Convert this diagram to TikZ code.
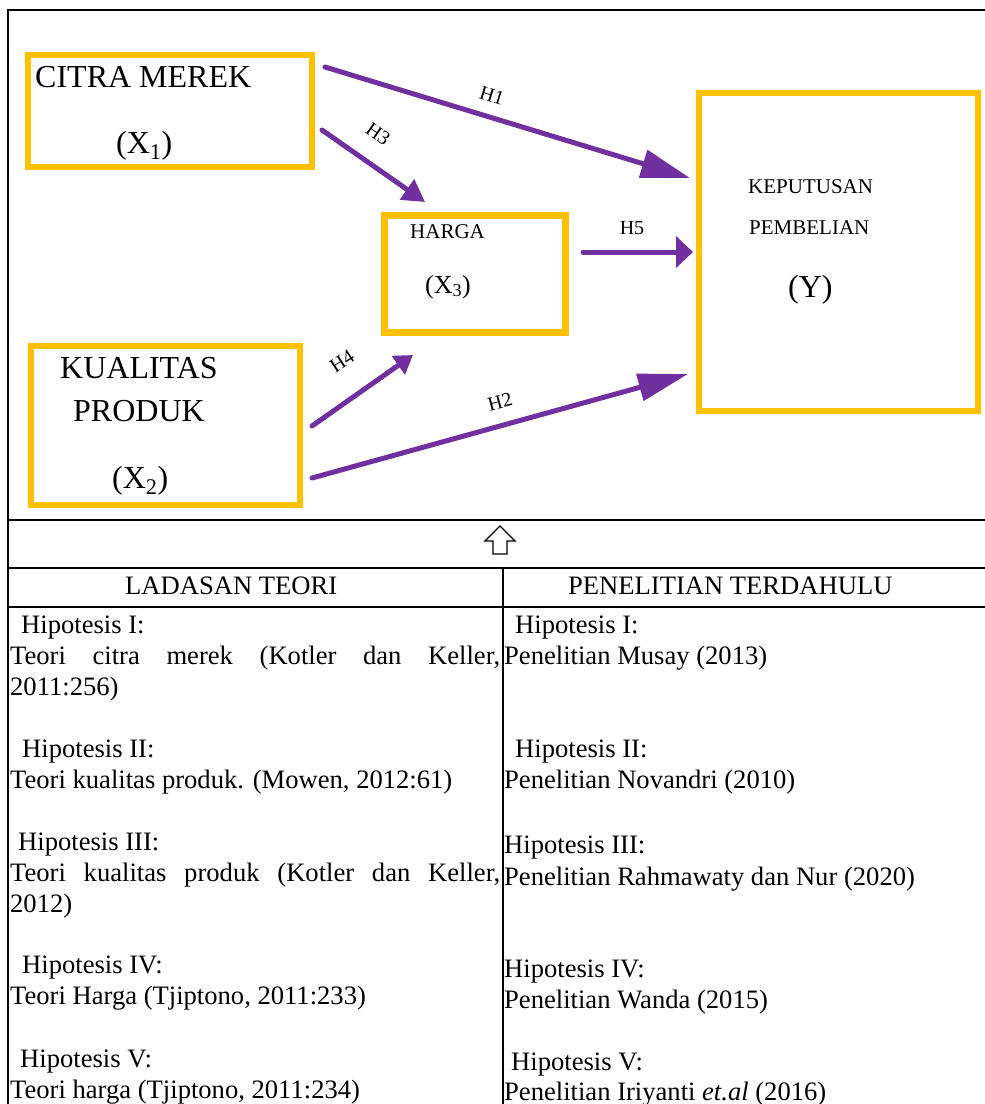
\documentclass[tikz,border=0pt]{standalone}
\usepackage{fontspec}
\setmainfont{Liberation Serif}
\usetikzlibrary{arrows.meta}
\definecolor{boxy}{HTML}{FFC000}
\definecolor{arrp}{HTML}{7030A0}
\begin{document}
\begin{tikzpicture}[x=1pt,y=-1pt,
  varbox/.style={draw=boxy, line width=6.5pt, inner sep=0pt, fill=white},
  hyp/.style={draw=arrp, line width=5pt, line cap=round},
  hlab/.style={font=\fontsize{20}{24}\selectfont, inner sep=0pt},
  big/.style={anchor=base west, inner sep=0pt, font=\fontsize{32}{38}\selectfont},
  small/.style={anchor=base west, inner sep=0pt, font=\fontsize{21}{25}\selectfont},
  mid/.style={anchor=base west, inner sep=0pt, font=\fontsize{26}{30}\selectfont},
  cell/.style={anchor=base west, inner sep=0pt, font=\fontsize{26.6}{31}\selectfont},
  rule/.style={draw=black, line width=2pt}]
\useasboundingbox (0,0) rectangle (985,1104);
\fill[white] (0,0) rectangle (985,1104);

% frame and table rules
\draw[rule] (8,10) -- (985,10);
\draw[rule] (8,9) -- (8,1104);
\draw[rule] (8,520) -- (985,520);
\draw[rule] (8,568) -- (985,568);
\draw[rule, line width=2.5pt] (8,607) -- (985,607);
\draw[rule] (503,568) -- (503,1104);

% variable boxes
\node[varbox, minimum width=284pt, minimum height=112pt] (x1) at (170,111) {};
\node[varbox, minimum width=269pt, minimum height=159pt] (x2) at (165.5,425.5) {};
\node[varbox, minimum width=181pt, minimum height=117pt] (x3) at (475,274) {};
\node[varbox, minimum width=279pt, minimum height=318pt] (y) at (838.5,252) {};

% box texts
\node[big] (t1a) at (35,87) {CITRA MEREK};
\node[big] (t1b) at (116,153) {(X\textsubscript{1})};
\node[big] (t2a) at (60,378) {KUALITAS};
\node[big] (t2b) at (73,421) {PRODUK};
\node[big] (t2c) at (112,488) {(X\textsubscript{2})};
\node[small] (t3a) at (410,238) {HARGA};
\node[mid] (t3b) at (425,293) {(X\textsubscript{3})};
\node[small] (tya) at (748,193) {KEPUTUSAN};
\node[small] (tyb) at (749,234) {PEMBELIAN};
\node[big] (tyc) at (788,297) {(Y)};

% arrow end points
\coordinate (h1s) at (325,67);   \coordinate (h1e) at (690,178);
\coordinate (h3s) at (322,130);  \coordinate (h3e) at (425,202);
\coordinate (h5s) at (583,252);  \coordinate (h5e) at (693,252);
\coordinate (h4s) at (312,426);  \coordinate (h4e) at (413,355);
\coordinate (h2s) at (312,478);  \coordinate (h2e) at (688,374);

\draw[hyp, -{Triangle[length=49pt,width=28pt]}] (h1s) -- (h1e);
\draw[hyp, -{Triangle[length=22pt,width=24pt]}] (h3s) -- (h3e);
\draw[hyp, -{Triangle[length=17pt,width=31pt]}] (h5s) -- (h5e);
\draw[hyp, -{Triangle[length=18pt,width=22pt]}] (h4s) -- (h4e);
\draw[hyp, -{Triangle[length=50pt,width=27pt]}] (h2s) -- (h2e);

\node[hlab, rotate=-17] (l1) at (492,96) {H1};
\node[hlab, rotate=-35] (l3) at (378,134) {H3};
\node[hlab] (l5) at (632,228) {H5};
\node[hlab, rotate=33] (l4) at (342,361) {H4};
\node[hlab, rotate=15] (l2) at (500,402) {H2};

% up arrow symbol
\draw[line width=1.3pt, fill=white, line join=miter]
  (500,526) -- (515,541) -- (507,541) -- (507,554) -- (493,554) -- (493,541) -- (485,541) -- cycle;

% headers
\node[cell] (hl) at (125,594) {LADASAN TEORI};
\node[cell] (hr) at (568,594) {PENELITIAN TERDAHULU};

% left column
\node[cell] (a1) at (21,633) {Hipotesis I:};
\node[cell] (a2) at (10,664) {\makebox[490pt][s]{Teori citra merek (Kotler dan Keller,}};
\node[cell] (a3) at (10,695) {2011:256)};
\node[cell] (a4) at (22,757) {Hipotesis II:};
\node[cell] (a5) at (10,788) {Teori kualitas produk. (Mowen, 2012:61)};
\node[cell] (a6) at (18,850) {Hipotesis III:};
\node[cell] (a7) at (10,881) {\makebox[490pt][s]{Teori kualitas produk (Kotler dan Keller,}};
\node[cell] (a8) at (10,912) {2012)};
\node[cell] (a9) at (22,973) {Hipotesis IV:};
\node[cell] (a10) at (10,1004) {Teori Harga (Tjiptono, 2011:233)};
\node[cell] (a11) at (20,1067) {Hipotesis V:};
\node[cell] (a12) at (10,1098) {Teori harga (Tjiptono, 2011:234)};

% right column
\node[cell] (b1) at (515,633) {Hipotesis I:};
\node[cell] (b2) at (504,664) {Penelitian Musay (2013)};
\node[cell] (b3) at (515,757) {Hipotesis II:};
\node[cell] (b4) at (504,788) {Penelitian Novandri (2010)};
\node[cell] (b5) at (504,853) {Hipotesis III:};
\node[cell] (b6) at (504,885) {Penelitian Rahmawaty dan Nur (2020)};
\node[cell] (b7) at (504,977) {Hipotesis IV:};
\node[cell] (b8) at (504,1008) {Penelitian Wanda (2015)};
\node[cell] (b9) at (511,1070) {Hipotesis V:};
\node[cell] (b10) at (504,1100) {Penelitian Iriyanti \textit{et.al} (2016)};
\end{tikzpicture}
\end{document}
